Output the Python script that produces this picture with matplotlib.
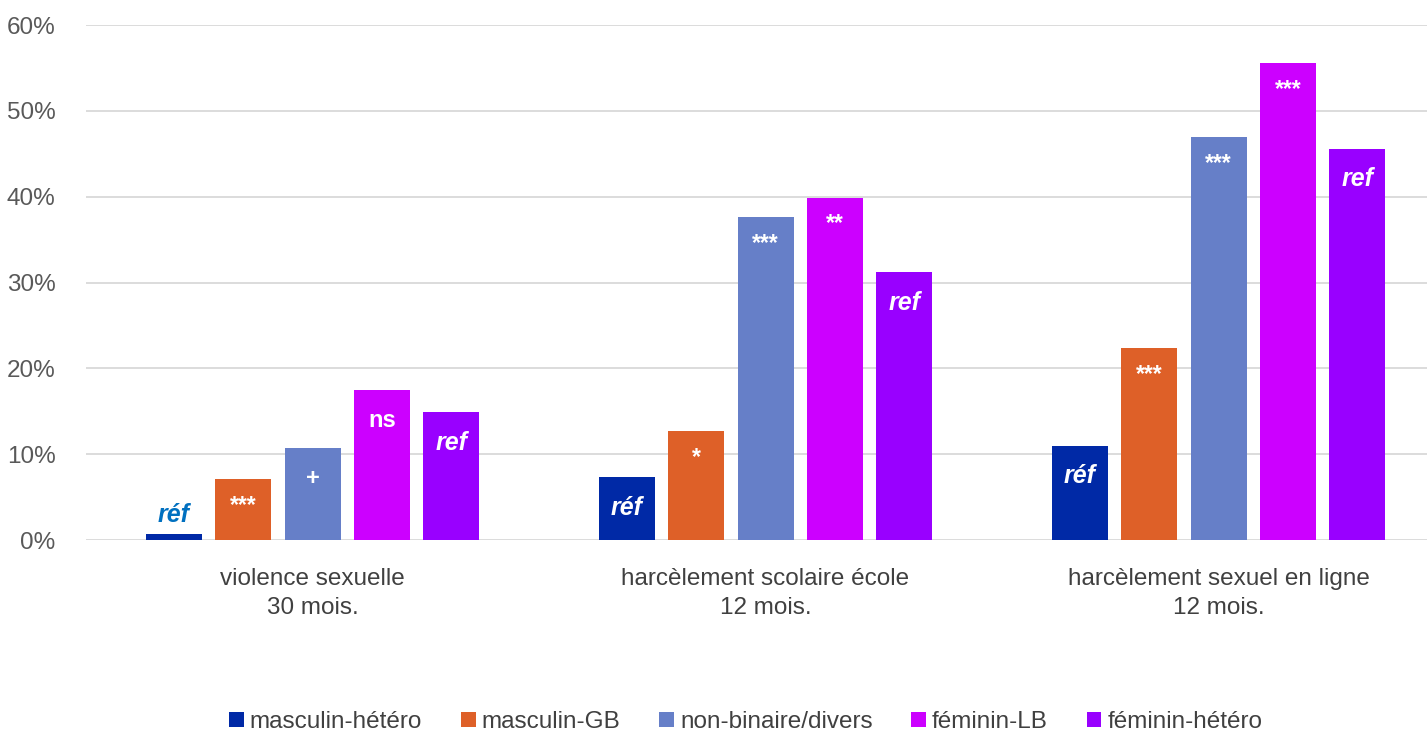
import numpy as np
import matplotlib
matplotlib.use("Agg")
import matplotlib.pyplot as plt
from matplotlib.ticker import FuncFormatter

plt.rcParams['font.family'] = ['Liberation Sans', 'DejaVu Sans']

categories = ["violence sexuelle\n30 mois.", "harcèlement scolaire école\n12 mois.",
              "harcèlement sexuel en ligne\n12 mois."]
groups = ["masculin-hétéro", "masculin-GB", "non-binaire/divers", "féminin-LB", "féminin-hétéro"]
colors = ["#0029A6", "#DE6028", "#667FC8", "#CC00FF", "#9900FF"]

masc_hetero = [0.7, 7.3, 11.0]
masc_gb = [7.1, 12.7, 22.4]
non_binaire = [10.7, 37.6, 46.9]
fem_lb = [17.5, 39.9, 55.6]
fem_hetero = [14.9, 31.2, 45.6]
values = [masc_hetero, masc_gb, non_binaire, fem_lb, fem_hetero]

sig_labels = [
    ["réf", "***", "+", "ns", "ref"],
    ["réf", "*", "***", "**", "ref"],
    ["réf", "***", "***", "***", "ref"],
]

fig = plt.figure(figsize=(14.27, 7.36), dpi=100)
ax = fig.add_axes([0.0603, 0.2663, 0.9397, 0.6997])

x = np.arange(len(categories))
width = 0.1236
step = 0.153

for i, (name, vals, col) in enumerate(zip(groups, values, colors)):
    pos = x + (i - 2) * step
    ax.bar(pos, vals, width, color=col, label=name, zorder=3)
    for j, (p, v) in enumerate(zip(pos, vals)):
        lab = sig_labels[j][i]
        if lab in ("réf", "ref"):
            kw = dict(fontsize=18, fontweight='bold', style='italic')
        elif lab == "ns" or lab == "+":
            kw = dict(fontsize=17, fontweight='bold')
        else:
            kw = dict(fontsize=16.5, fontweight='bold')
        if v < 3:
            ax.annotate(lab, (p, v), xytext=(0, 14), textcoords='offset points',
                        ha='center', va='center', color="#0070C0", **kw)
        else:
            off = -22 if lab in ("réf", "ref", "ns", "+") else -19
            ax.annotate(lab, (p, v), xytext=(0, off), textcoords='offset points',
                        ha='center', va='center', color="white", **kw)

ax.set_ylim(0, 60)
ax.set_xlim(-0.5, 2.5 - 18 / 453)
ax.set_yticks(np.arange(0, 61, 10))
ax.yaxis.set_major_formatter(FuncFormatter(lambda v, _: f"{v:.0f}%"))
ax.yaxis.grid(True, color="#D9D9D9", linewidth=1.3, zorder=0)
ax.set_xticks(x)
ax.set_xticklabels(categories, fontsize=17.5, color="#404040", linespacing=1.45)
ax.tick_params(axis='y', length=0, labelsize=17.5, labelcolor="#595959", pad=22)
ax.tick_params(axis='x', length=0, pad=20)
for s in ax.spines.values():
    s.set_visible(False)

ax.legend(loc='center', bbox_to_anchor=(0.492, -0.353), ncol=5, frameon=False,
          fontsize=17.5, handlelength=0.6, handleheight=0.6, handletextpad=0.25,
          columnspacing=1.6, labelcolor="#404040")

fig.savefig("out.png", dpi=100)
